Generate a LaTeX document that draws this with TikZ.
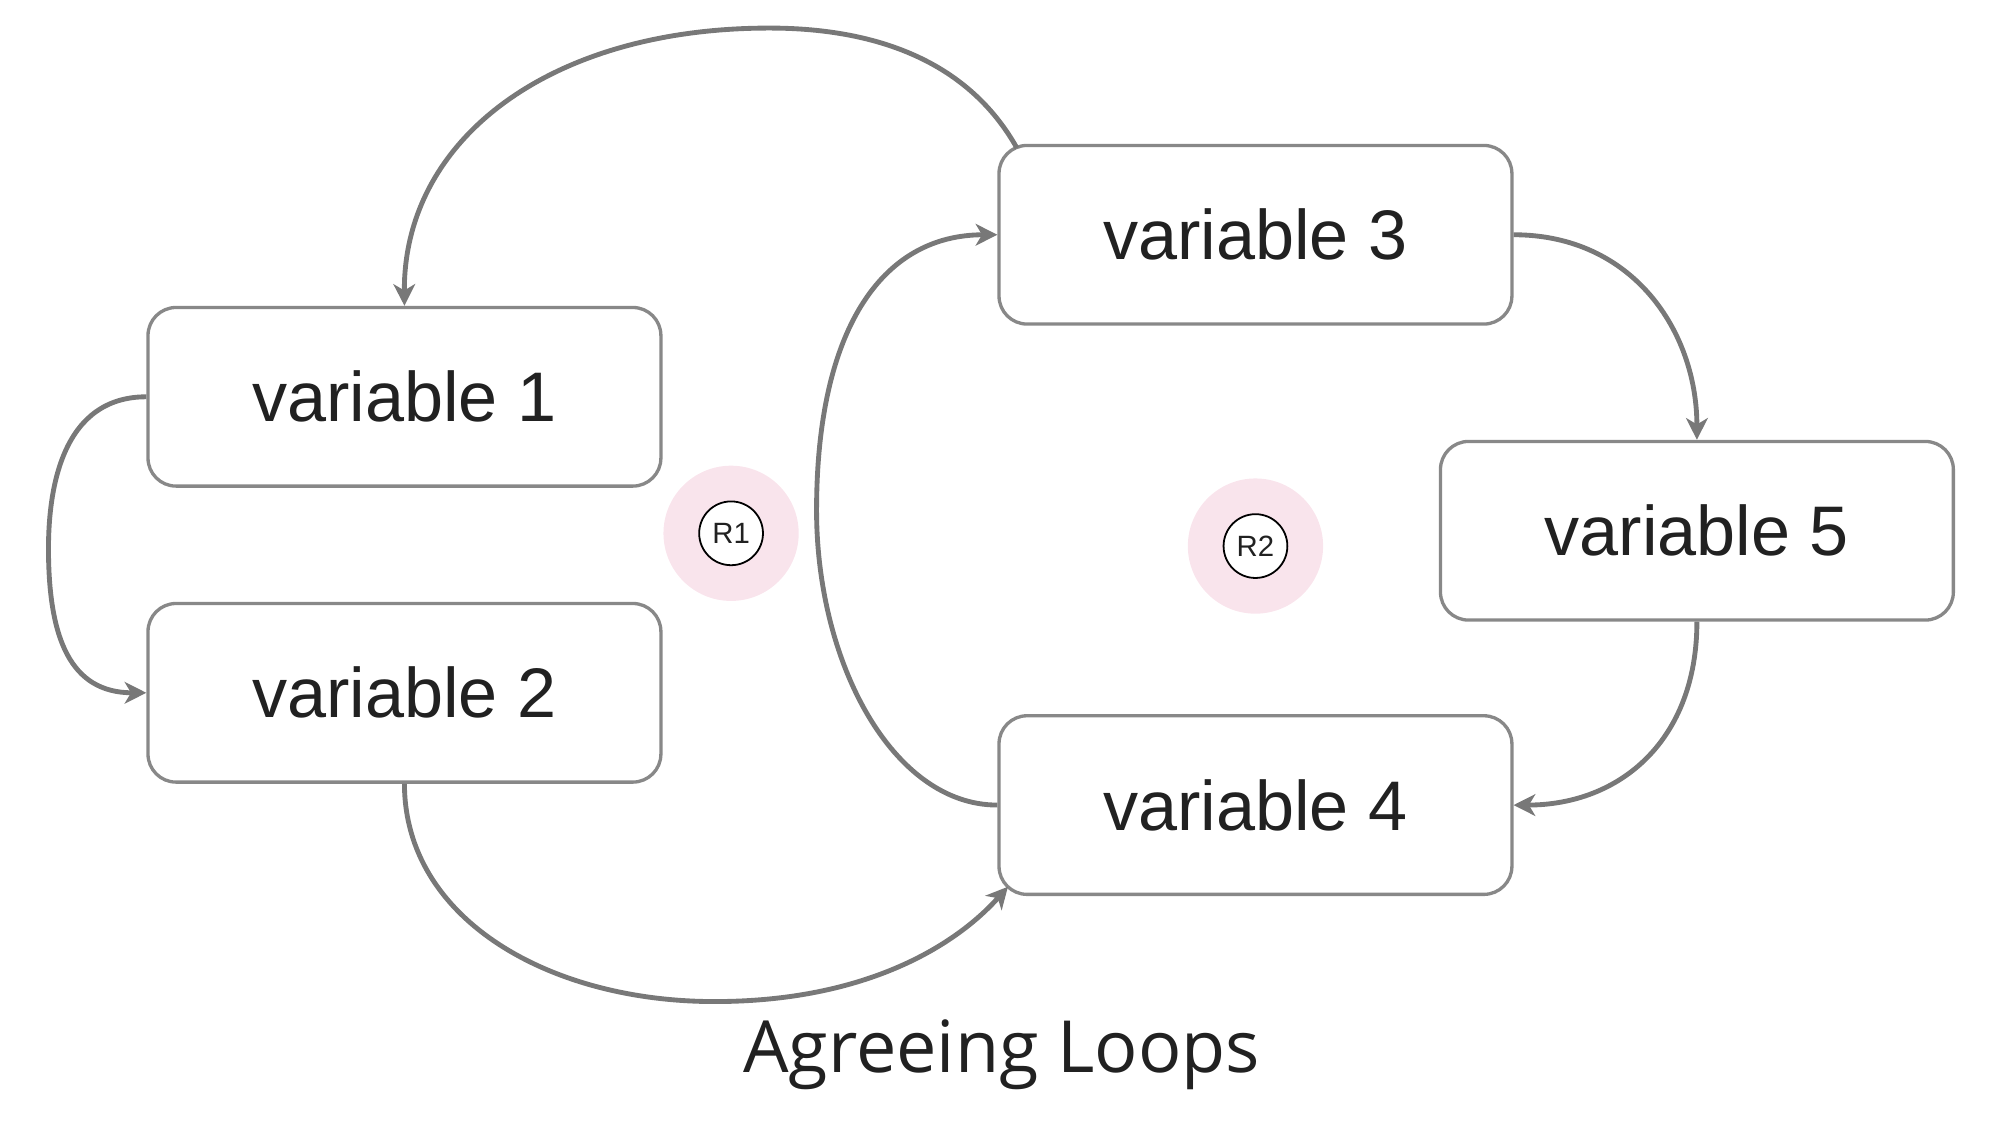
\documentclass[tikz,border=0pt]{standalone}
\usepackage{fontspec}
\setmainfont{Liberation Sans}
\newfontfamily\titlefont{Open Sans}
\usetikzlibrary{arrows.meta}
\definecolor{boxgray}{RGB}{136,136,136}
\definecolor{linegray}{RGB}{120,120,120}
\definecolor{pinkbg}{RGB}{249,228,236}
\definecolor{txt}{RGB}{33,33,33}
\tikzset{
  varbox/.style={draw=boxgray, line width=1.3pt, rounded corners=11pt, fill=white,
    minimum width=201pt, minimum height=70pt, inner sep=0pt,
    font=\fontsize{27.5}{32}\selectfont, text=txt},
  conn/.style={draw=linegray, line width=1.9pt, -{Stealth[length=8.5pt,width=8.5pt,inset=2.5pt]}},
  halo/.style={circle, fill=pinkbg, minimum size=53pt, inner sep=0pt},
  rnode/.style={circle, draw=black, line width=0.7pt, fill=white, minimum size=25pt, inner sep=0pt,
    font=\fontsize{11.5}{14}\selectfont, text=txt},
}
\begin{document}
\begin{tikzpicture}[x=0.5pt,y=-0.5pt]
\useasboundingbox (0,0) rectangle (1566,881.6);
\node[varbox] (v1) at (317,311) {variable 1};
\node[varbox] (v2) at (317,543) {variable 2};
\node[varbox] (v3) at (984,184) {variable 3};
\node[varbox] (v4) at (984,631) {variable 4};
\node[varbox] (v5) at (1330,416) {variable 5};
\node[halo] (h1) at (573,418) {};
\node[rnode] (r1) at (h1) {R1};
\node[halo] (h2) at (984,428) {};
\node[rnode] (r2) at (h2) {R2};
\node[font=\titlefont\fontsize{28.2}{32}\selectfont, text=txt] (title) at (785,827) {Agreeing Loops};
\coordinate (v3tl) at (797,116);
\coordinate (v4bl) at (790,695);
% v3 -> v1
\draw[conn] (v3tl) .. controls (760,50) and (690,22) .. (603,22)
  .. controls (430,22) and (316,110) .. (v1.north);
% v1 -> v2
\draw[conn] (v1.west) .. controls (50,311) and (38,380) .. (38,430)
  .. controls (38,500) and (55,543) .. (v2.west);
% v2 -> v4
\draw[conn] (v2.south) .. controls (317,720) and (430,785) .. (560,785)
  .. controls (680,785) and (750,740) .. (v4bl);
% v4 -> v3
\draw[conn] (v4.west) .. controls (700,631) and (640,520) .. (640,400)
  .. controls (640,260) and (690,184) .. (v3.west);
% v3 -> v5
\draw[conn] (v3.east) .. controls (1280,184) and (1330,260) .. (v5.north);
% v5 -> v4
\draw[conn] (v5.south) .. controls (1330,580) and (1270,631) .. (v4.east);
\end{tikzpicture}
\end{document}
